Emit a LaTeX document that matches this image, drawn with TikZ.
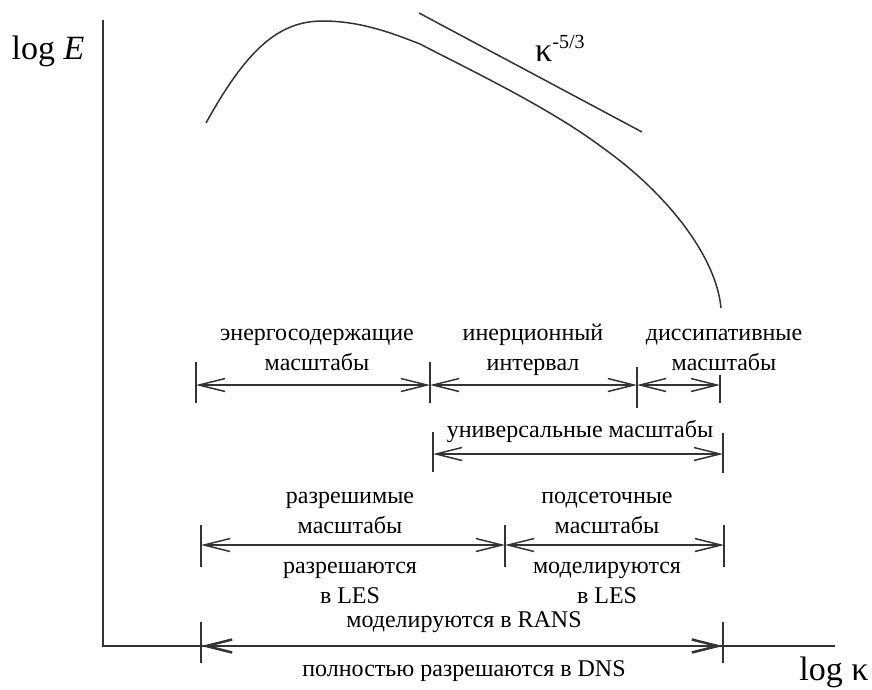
\documentclass[tikz,border=0pt]{standalone}
\usepackage{fontspec}
\setmainfont{Liberation Serif}
\usetikzlibrary{arrows.meta}
\definecolor{ink}{gray}{0.2}
\tikzset{
  dimarr/.style={draw=ink, line width=1.5pt, {Straight Barb[length=26pt,width=13pt]}-{Straight Barb[length=26pt,width=13pt]}},
  tick/.style={draw=ink, line width=1.5pt},
  lbl/.style={font=\fontsize{24}{30}\selectfont, align=center, inner sep=0pt, text=black},
  axlbl/.style={font=\fontsize{34}{40}\selectfont, inner sep=0pt, text=black},
  axis/.style={draw=ink, line width=1.5pt}
}
\begin{document}
\begin{tikzpicture}[x=1pt,y=-1pt]
\useasboundingbox (0,0) rectangle (872,690);
% axes
\coordinate (o) at (103,646);
\coordinate (ytop) at (103,20);
\coordinate (xend) at (835,646);
\draw[axis] (ytop) -- (o) -- (xend);
\node[axlbl, anchor=base] (logE) at (48,60) {log \textit{E}};
\node[axlbl, anchor=base] (logk) at (834,680) {log κ};
% spectrum curve
\coordinate (c0) at (206,123);
\coordinate (c1) at (323,21);
\coordinate (c2) at (420,44);
\coordinate (c3) at (603,148);
\coordinate (c4) at (721,308);
\draw[draw=ink, line width=1.5pt] (c0) .. controls (248,47) and (280,21) .. (c1)
  .. controls (360,21) and (392,33) .. (c2)
  .. controls (470,70) and (550,108) .. (c3)
  .. controls (665,192) and (716,255) .. (c4);
% slope line
\coordinate (s1) at (419,13);
\coordinate (s2) at (642,132);
\draw[draw=ink, line width=1.5pt] (s1) -- (s2);
\node[inner sep=0pt, anchor=base west, font=\fontsize{34}{40}\selectfont] (kap) at (535,62) {κ\raisebox{13pt}{\fontsize{20}{24}\selectfont -5/3}};
% row 1
\coordinate (a1) at (196,385);
\coordinate (a2) at (430,385);
\coordinate (a3) at (637,385);
\coordinate (a4) at (720,385);
\draw[tick] (a1) ++(0,-23) -- ++(0,41);
\draw[tick] (a2) ++(0,-23) -- ++(0,41);
\draw[tick] (a3) ++(0,-18) -- ++(0,41);
\draw[tick] (a4) ++(0,-10) -- ++(0,28);
\draw[dimarr] (a1) -- (a2);
\draw[dimarr] (a2) -- (a3);
\draw[dimarr] (a3) -- (a4);
\node[lbl] (t1) at (317,350) {энергосодержащие\\масштабы};
\node[lbl] (t2) at (533,350) {инерционный\\интервал};
\node[lbl] (t3) at (724,350) {диссипативные\\масштабы};
% universal
\coordinate (u1) at (433,454);
\coordinate (u2) at (723,454);
\draw[tick] (u1) ++(0,-22) -- ++(0,40);
\draw[tick] (u2) ++(0,-21) -- ++(0,40);
\draw[dimarr] (u1) -- (u2);
\node[lbl] (t4) at (580,431) {универсальные масштабы};
% LES row
\coordinate (l1) at (201,545);
\coordinate (l2) at (505,545);
\coordinate (l3) at (724,545);
\draw[tick] (l1) ++(0,-20) -- ++(0,42);
\draw[tick] (l2) ++(0,-20) -- ++(0,42);
\draw[tick] (l3) ++(0,-20) -- ++(0,42);
\draw[dimarr] (l1) -- (l2);
\draw[dimarr] (l2) -- (l3);
\node[lbl] (t5) at (350,513) {разрешимые\\масштабы};
\node[lbl] (t6) at (350,583) {разрешаются\\в LES};
\node[lbl] (t7) at (607,513) {подсеточные\\масштабы};
\node[lbl] (t8) at (607,583) {моделируются\\в LES};
% DNS row
\coordinate (d1) at (201,646);
\coordinate (d2) at (723,646);
\draw[tick] (d1) ++(0,-24) -- ++(0,41);
\draw[tick] (d2) ++(0,-24) -- ++(0,41);
\draw[dimarr, line width=2.5pt] (d1) -- (d2);
\node[lbl] (t9) at (464,622) {моделируются в RANS};
\node[lbl] (t10) at (464,671) {полностью разрешаются в DNS};
\end{tikzpicture}
\end{document}
